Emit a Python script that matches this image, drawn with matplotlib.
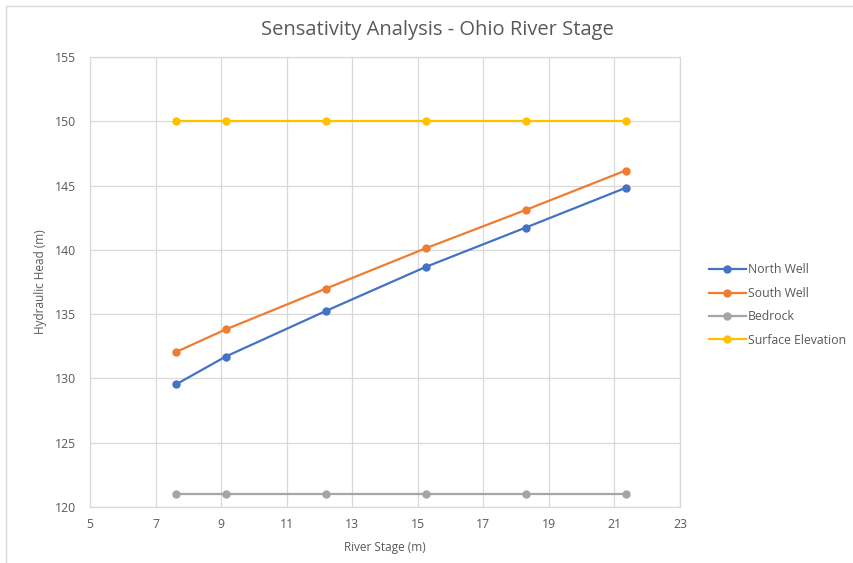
import matplotlib.pyplot as plt
import matplotlib.patches as patches

# dados
river_stage = [7.62, 9.14, 12.19, 15.24, 18.29, 21.34]
north_well = [129.53, 131.70, 135.24, 138.67, 141.73, 144.82]
south_well = [132.05, 133.81, 136.98, 140.12, 143.10, 146.17]
bedrock = [121, 121, 121, 121, 121, 121]
surface_elev = [150, 150, 150, 150, 150, 150]

series_names = ['North Well', 'South Well', 'Bedrock', 'Surface Elevation']
series_colors = ['#4472C4', '#ED7D31', '#A5A5A5', '#FFC000']

x_ticks = [5, 7, 9, 11, 13, 15, 17, 19, 21, 23]
y_ticks = [120, 125, 130, 135, 140, 145, 150, 155]

plt.rcParams['font.family'] = ['Open Sans', 'DejaVu Sans']
text_color = '#595959'

fig = plt.figure(figsize=(8.54, 5.63), dpi=100)
ax = fig.add_axes([90 / 854, 1 - 507 / 563, 590 / 854, 450 / 563])

# borda externa do gráfico
border = patches.Rectangle((6 / 854, -0.01), 1.0, 1 - 6 / 563 + 0.01,
                           transform=fig.transFigure, fill=False,
                           edgecolor='#d9d9d9', linewidth=1, zorder=0)
fig.add_artist(border)

for vals, name, col in zip([north_well, south_well, bedrock, surface_elev],
                           series_names, series_colors):
    ax.plot(river_stage, vals, color=col, linewidth=1.6, marker='o',
            markersize=5, label=name, zorder=3)

ax.set_xlim(5, 23)
ax.set_ylim(120, 155)
ax.set_xticks(x_ticks)
ax.set_yticks(y_ticks)
ax.grid(True, color='#d9d9d9', linewidth=0.9)
ax.set_axisbelow(True)
for s in ax.spines.values():
    s.set_color('#d9d9d9')
    s.set_linewidth(0.9)
ax.tick_params(length=0, labelsize=8.8, labelcolor=text_color)
ax.tick_params(axis='y', pad=10)
ax.tick_params(axis='x', pad=8)

ax.set_xlabel('River Stage (m)', fontsize=8.5, color=text_color, labelpad=7)
ax.set_ylabel('Hydraulic Head (m)', fontsize=8.5, color=text_color, labelpad=6)
fig.text(437 / 854, 1 - 30 / 563, 'Sensativity Analysis - Ohio River Stage',
         ha='center', va='center', fontsize=14.5, color=text_color)

fig.legend(loc='center left', bbox_to_anchor=(698 / 854, 1 - 305 / 563),
           frameon=False, fontsize=8.8, labelcolor=text_color,
           handlelength=3, handletextpad=0.2, labelspacing=0.85)

fig.savefig('out.png', dpi=100)
